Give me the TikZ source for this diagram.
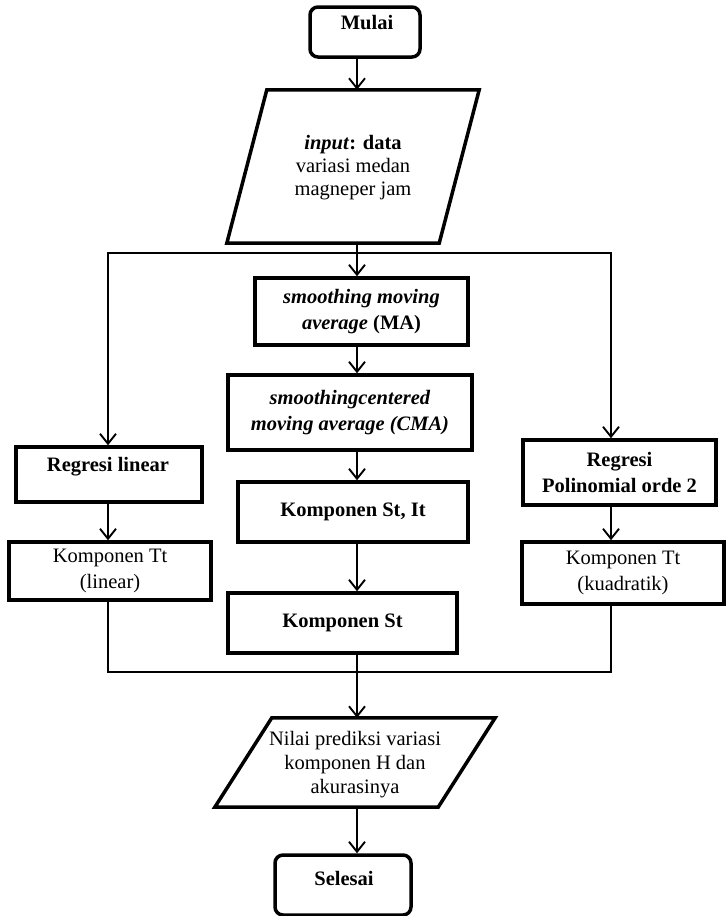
\documentclass[tikz,border=0pt]{standalone}
\usepackage{fontspec}
\setmainfont{Liberation Serif}
\usetikzlibrary{arrows.meta,calc}
\begin{document}
\begin{tikzpicture}[x=1pt,y=-1pt,
  boxline/.style={draw, line width=3.5pt, line join=miter},
  procbox/.style={boxline, rectangle, inner sep=0pt, align=center, font=\fontsize{20.5}{26}\selectfont\bfseries},
  plainbox/.style={procbox, font=\fontsize{20.5}{26}\selectfont},
  termbox/.style={boxline, rectangle, rounded corners=8pt, inner sep=0pt},
  frame/.style={inner sep=0pt},
  lbl/.style={inner sep=0pt, align=center, font=\fontsize{20.5}{26}\selectfont\bfseries},
  conn/.style={line width=1.9pt},
  arr/.style={conn, -{Straight Barb[length=10pt,width=16pt]}},
]
\fill[white] (0,0) rectangle (726,916);
\useasboundingbox (0,0) rectangle (726,916);

\coordinate (spine) at (357,0);
\coordinate (lcol) at (108,0);
\coordinate (rcol) at (611,0);

% start
\node[termbox, minimum width=110pt, minimum height=50pt] (mulai) at (365,32) {};
\node[lbl] (mulaitext) at (367,23) {Mulai};

% input parallelogram
\node[frame, minimum width=252pt, minimum height=153pt] (inp) at (353,166.5) {};
\draw[boxline] ([xshift=40pt]inp.north west) -- (inp.north east) -- ([xshift=-40pt]inp.south east) -- (inp.south west) -- cycle;
\node[lbl, font=\fontsize{20.5}{23}\selectfont] (inptext) at (353,168) {{\bfseries\textit{input}: data}\\variasi medan\\magneper jam};

% centre column
\node[procbox, minimum width=213pt, minimum height=67pt] (ma) at (361.5,311.5) {\textit{smoothing moving}\\\textit{average} (MA)};
\node[procbox, minimum width=244pt, minimum height=75pt] (cma) at (350,412.5) {\textit{smoothingcentered}\\\textit{moving average (CMA)}};
\node[procbox, minimum width=230pt, minimum height=60pt] (sti) at (353,512) {Komponen St, It};
\node[procbox, minimum width=229pt, minimum height=60pt] (st) at (342.5,623) {Komponen St};

% left column
\node[boxline, inner sep=0pt, minimum width=186pt, minimum height=55pt] (reglin) at (109,474.5) {};
\node[lbl] (reglintext) at (108,467) {Regresi linear};
\node[plainbox, minimum width=202pt, minimum height=58pt] (ttlin) at (110,571) {Komponen Tt\\(linear)};

% right column
\node[procbox, minimum width=193pt, minimum height=65pt] (regpol) at (619.5,472.5) {Regresi\\Polinomial orde 2};
\node[plainbox, minimum width=202pt, minimum height=62pt] (ttkuad) at (623,573) {Komponen Tt\\(kuadratik)};

% output parallelogram
\node[frame, minimum width=280pt, minimum height=89pt] (nilai) at (355,762.5) {};
\draw[boxline] ([xshift=57pt]nilai.north west) -- (nilai.north east) -- ([xshift=-57pt]nilai.south east) -- (nilai.south west) -- cycle;
\node[lbl, font=\fontsize{20.5}{24}\selectfont] (nilaitext) at (355,765) {Nilai prediksi variasi\\komponen H dan\\akurasinya};

% end
\node[termbox, minimum width=136pt, minimum height=60pt] (selesai) at (343,885) {};
\node[lbl] (selesaitext) at (344,878) {Selesai};

% connectors
\draw[arr] (mulai.south -| spine) -- (inp.north -| spine);
\draw[arr] (inp.south -| spine) -- (ma.north -| spine);
\coordinate (branch) at (357,253);
\draw[arr] (branch) -| (lcol |- reglin.north);
\draw[arr] (branch) -| (rcol |- regpol.north);
\draw[arr] (ma.south -| spine) -- (cma.north -| spine);
\draw[arr] (cma.south -| spine) -- (sti.north -| spine);
\draw[arr] (sti.south -| spine) -- (st.north -| spine);
\draw[arr] (reglin.south -| lcol) -- (ttlin.north -| lcol);
\draw[arr] (regpol.south -| rcol) -- (ttkuad.north -| rcol);
\coordinate (join) at (357,672);
\draw[conn] (ttlin.south -| lcol) |- (join) -| (ttkuad.south -| rcol);
\draw[arr] (st.south -| spine) -- (nilai.north -| spine);
\draw[arr] (nilai.south -| spine) -- (selesai.north -| spine);
\end{tikzpicture}
\end{document}
